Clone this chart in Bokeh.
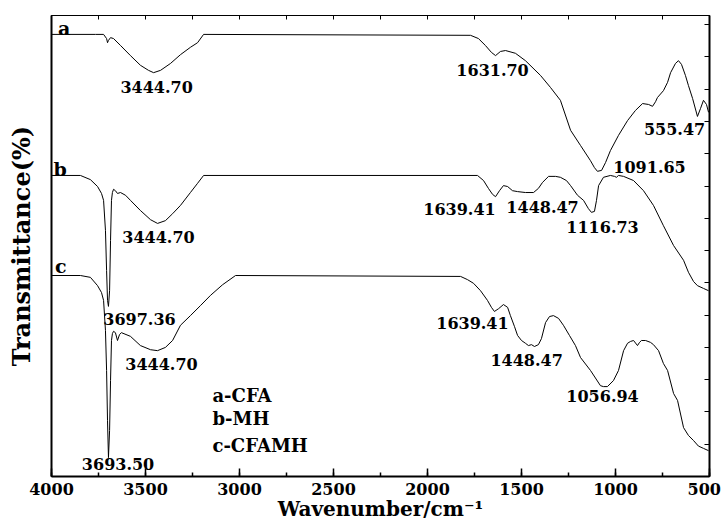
from bokeh.plotting import figure
from bokeh.models import Range1d, LinearAxis, SingleIntervalTicker, FixedTicker
from bokeh.core.properties import value
from bokeh.embed import file_html
from bokeh.resources import INLINE

# ---- data (wavenumber in cm-1, transmittance in arbitrary offset units) ----
a_wn = [4000, 3766, 3723, 3707, 3702, 3697, 3686, 3670, 3633, 3580, 3527, 3484, 3457, 3420, 3367,
        3314, 3261, 3223, 3191, 1771, 1729, 1692, 1660, 1638, 1612, 1585, 1532, 1479, 1399, 1346,
        1293, 1239, 1186, 1133, 1112, 1096, 1074, 1053, 1027, 984, 936, 894, 856, 824, 803, 787,
        777, 745, 723, 707, 681, 665, 649, 628, 612, 590, 564, 548, 532, 516, 505]
a_t = [95.9, 95.9, 95.9, 95.0, 94.1, 94.6, 95.2, 95.0, 93.5, 91.3, 89.2, 88.1, 87.6, 88.1, 89.6,
       91.5, 93.1, 94.1, 95.9, 95.7, 95.0, 93.5, 92.0, 91.3, 92.2, 92.4, 91.8, 90.2, 87.0, 84.4,
       81.6, 75.1, 71.8, 68.5, 67.0, 66.2, 66.4, 68.1, 70.7, 74.0, 77.2, 79.4, 80.9, 80.7, 80.3, 81.3,
       82.2, 83.7, 85.5, 87.6, 89.6, 90.2, 89.4, 87.0, 84.8, 82.0, 78.1, 79.8, 81.6, 80.7, 79.0]

b_wn = [4000, 3846, 3793, 3755, 3734, 3723, 3713, 3707, 3702, 3697, 3691, 3686, 3681, 3676, 3670,
        3660, 3649, 3633, 3606, 3580, 3527, 3473, 3436, 3394, 3356, 3314, 3261, 3223, 3191, 1734,
        1702, 1676, 1654, 1638, 1617, 1596, 1574, 1548, 1521, 1479, 1436, 1410, 1388, 1356, 1319,
        1293, 1261, 1239, 1202, 1170, 1144, 1128, 1112, 1101, 1090, 1064, 1027, 1005, 995, 984,
        957, 904, 851, 798, 745, 691, 638, 612, 585, 564, 532, 505]
b_t = [65.3, 65.3, 64.4, 62.9, 61.4, 59.9, 53.4, 44.7, 38.2, 36.9, 40.3, 51.2, 59.9, 61.6, 62.3,
       62.0, 61.4, 61.6, 61.0, 59.9, 57.7, 55.7, 54.9, 55.5, 57.0, 58.8, 61.6, 63.6, 65.3, 65.3,
       64.2, 62.5, 61.2, 60.7, 62.0, 63.1, 62.9, 62.0, 61.8, 61.6, 61.6, 62.5, 63.8, 65.1, 65.1,
       64.9, 64.2, 63.1, 61.0, 59.9, 58.1, 57.3, 57.5, 59.9, 63.1, 64.9, 65.3, 65.1, 64.9, 65.3,
       65.1, 64.2, 62.0, 58.8, 54.4, 50.1, 46.9, 44.3, 42.3, 41.4, 40.8, 40.3]

c_wn = [4000, 3846, 3793, 3755, 3734, 3723, 3713, 3707, 3702, 3697, 3691, 3686, 3681, 3676, 3670,
        3660, 3649, 3638, 3628, 3580, 3527, 3473, 3436, 3394, 3356, 3314, 3261, 3207, 3154, 3090,
        3021, 1824, 1787, 1755, 1718, 1681, 1660, 1644, 1622, 1596, 1574, 1559, 1537, 1521, 1500,
        1479, 1463, 1447, 1431, 1410, 1394, 1372, 1351, 1330, 1303, 1277, 1245, 1213, 1186, 1133,
        1080, 1064, 1043, 1011, 984, 957, 936, 920, 904, 883, 872, 862, 840, 814, 798, 771, 745,
        723, 691, 670, 638, 612, 585, 559, 532, 505]
c_t = [43.6, 43.6, 43.2, 41.4, 39.9, 38.2, 31.7, 23.0, 12.1, 4.1, 10.0, 20.8, 29.5, 31.0, 31.5,
       31.2, 29.5, 30.8, 31.2, 30.4, 28.4, 27.5, 27.3, 28.0, 29.5, 32.8, 34.9, 37.1, 39.3, 41.6,
       43.6, 43.4, 42.7, 41.9, 40.3, 38.2, 36.7, 35.8, 36.4, 37.3, 36.7, 34.9, 32.5, 30.6, 29.5,
       28.9, 28.4, 28.6, 28.2, 28.6, 29.9, 33.4, 34.7, 34.9, 34.3, 32.8, 30.6, 28.4, 25.8, 23.0,
       19.7, 19.5, 19.5, 20.8, 23.0, 27.3, 28.9, 29.3, 29.5, 28.4, 29.1, 29.5, 29.5, 29.1, 28.6, 27.3, 24.5,
       23.0, 18.0, 16.5, 10.6, 8.9, 7.8, 6.6, 6.1, 5.6]

# peak annotations
peak_text = ["3444.70", "1631.70", "555.47", "1091.65",
             "3444.70", "1639.41", "1448.47", "1116.73", "3697.36",
             "3444.70", "3693.50", "1639.41", "1448.47", "1056.94"]
peak_x = [3441, 1654, 686, 819,
          3431, 1830, 1388, 1069, 3532,
          3415, 3646, 1761, 1473, 1069]
peak_y = [84.5, 88.2, 75.4, 67.1,
          52.0, 58.0, 58.5, 54.1, 34.2,
          24.4, 2.7, 33.3, 25.2, 17.5]

# curve letters
curve_text = ["a", "b", "c"]
curve_x = [3966, 3989, 3981]
curve_y = [97.2, 66.8, 45.6]

# sample key
key_text = ["a-CFA", "b-MH", "c-CFAMH"]
key_x = [3144, 3144, 3144]
key_y = [17.5, 12.5, 6.8]

FONT = "DejaVu Serif"

p = figure(width=726, height=527, x_range=Range1d(4000, 500), y_range=Range1d(0, 100),
           output_backend="svg", toolbar_location=None,
           min_border_left=51, min_border_right=17, min_border_top=15, min_border_bottom=51)
p.background_fill_color = "white"
p.border_fill_color = "white"
p.xgrid.visible = False
p.ygrid.visible = False
p.outline_line_color = "black"
p.outline_line_width = 1

for xs, ys in ((a_wn, a_t), (b_wn, b_t), (c_wn, c_t)):
    p.line(xs, ys, line_color="black", line_width=1)

p.text(x=peak_x, y=peak_y, text=peak_text, text_font=value(FONT), text_font_style="bold",
       text_font_size="16px", text_align="center", text_baseline="middle", text_color="black")
p.text(x=curve_x, y=curve_y, text=curve_text, text_font=value(FONT), text_font_style="bold",
       text_font_size="19px", text_align="left", text_baseline="middle", text_color="black")
p.text(x=key_x, y=key_y, text=key_text, text_font=value(FONT), text_font_style="bold",
       text_font_size="18px", text_align="left", text_baseline="middle", text_color="black")

# bottom axis
xa = p.xaxis[0]
xa.ticker = SingleIntervalTicker(interval=500, num_minor_ticks=2)
xa.major_tick_in = 8
xa.major_tick_out = 0
xa.minor_tick_in = 4
xa.minor_tick_out = 0
xa.axis_line_width = 2
xa.major_tick_line_width = 1.5
xa.minor_tick_line_width = 1.5
xa.major_label_text_font = FONT
xa.major_label_text_font_style = "bold"
xa.major_label_text_font_size = "16px"
xa.major_label_text_color = "black"
xa.major_label_standoff = 3
xa.major_label_overrides = {500: "500 "}
xa.axis_label = "Wavenumber/cm\u207b\u00b9"
xa.axis_label_text_font = FONT
xa.axis_label_text_font_style = "bold"
xa.axis_label_text_font_size = "20px"
xa.axis_label_text_color = "black"
xa.axis_label_standoff = -5

# left axis
ya = p.yaxis[0]
ya.ticker = FixedTicker(ticks=[])
ya.major_tick_line_color = None
ya.minor_tick_line_color = None
ya.axis_line_width = 2
ya.major_label_standoff = 0
ya.axis_label = "Transmittance(%)"
ya.axis_label_text_font = FONT
ya.axis_label_text_font_style = "bold"
ya.axis_label_text_font_size = "24px"
ya.axis_label_text_color = "black"
ya.axis_label_standoff = 16

# top axis (ticks only)
top = LinearAxis(ticker=SingleIntervalTicker(interval=250, num_minor_ticks=0),
                 major_tick_in=4, major_tick_out=0, minor_tick_line_color=None,
                 major_label_text_font_size="0px", major_label_text_color=None,
                 major_label_standoff=0, axis_line_width=1)
p.add_layout(top, "above")

# right axis (ticks only)
right = LinearAxis(ticker=SingleIntervalTicker(interval=7, num_minor_ticks=0),
                   major_tick_in=5, major_tick_out=0, minor_tick_line_color=None,
                   major_label_text_font_size="0px", major_label_text_color=None,
                   major_label_standoff=0, axis_line_width=2)
p.add_layout(right, "right")

open("out.html", "w").write(file_html(p, INLINE))
